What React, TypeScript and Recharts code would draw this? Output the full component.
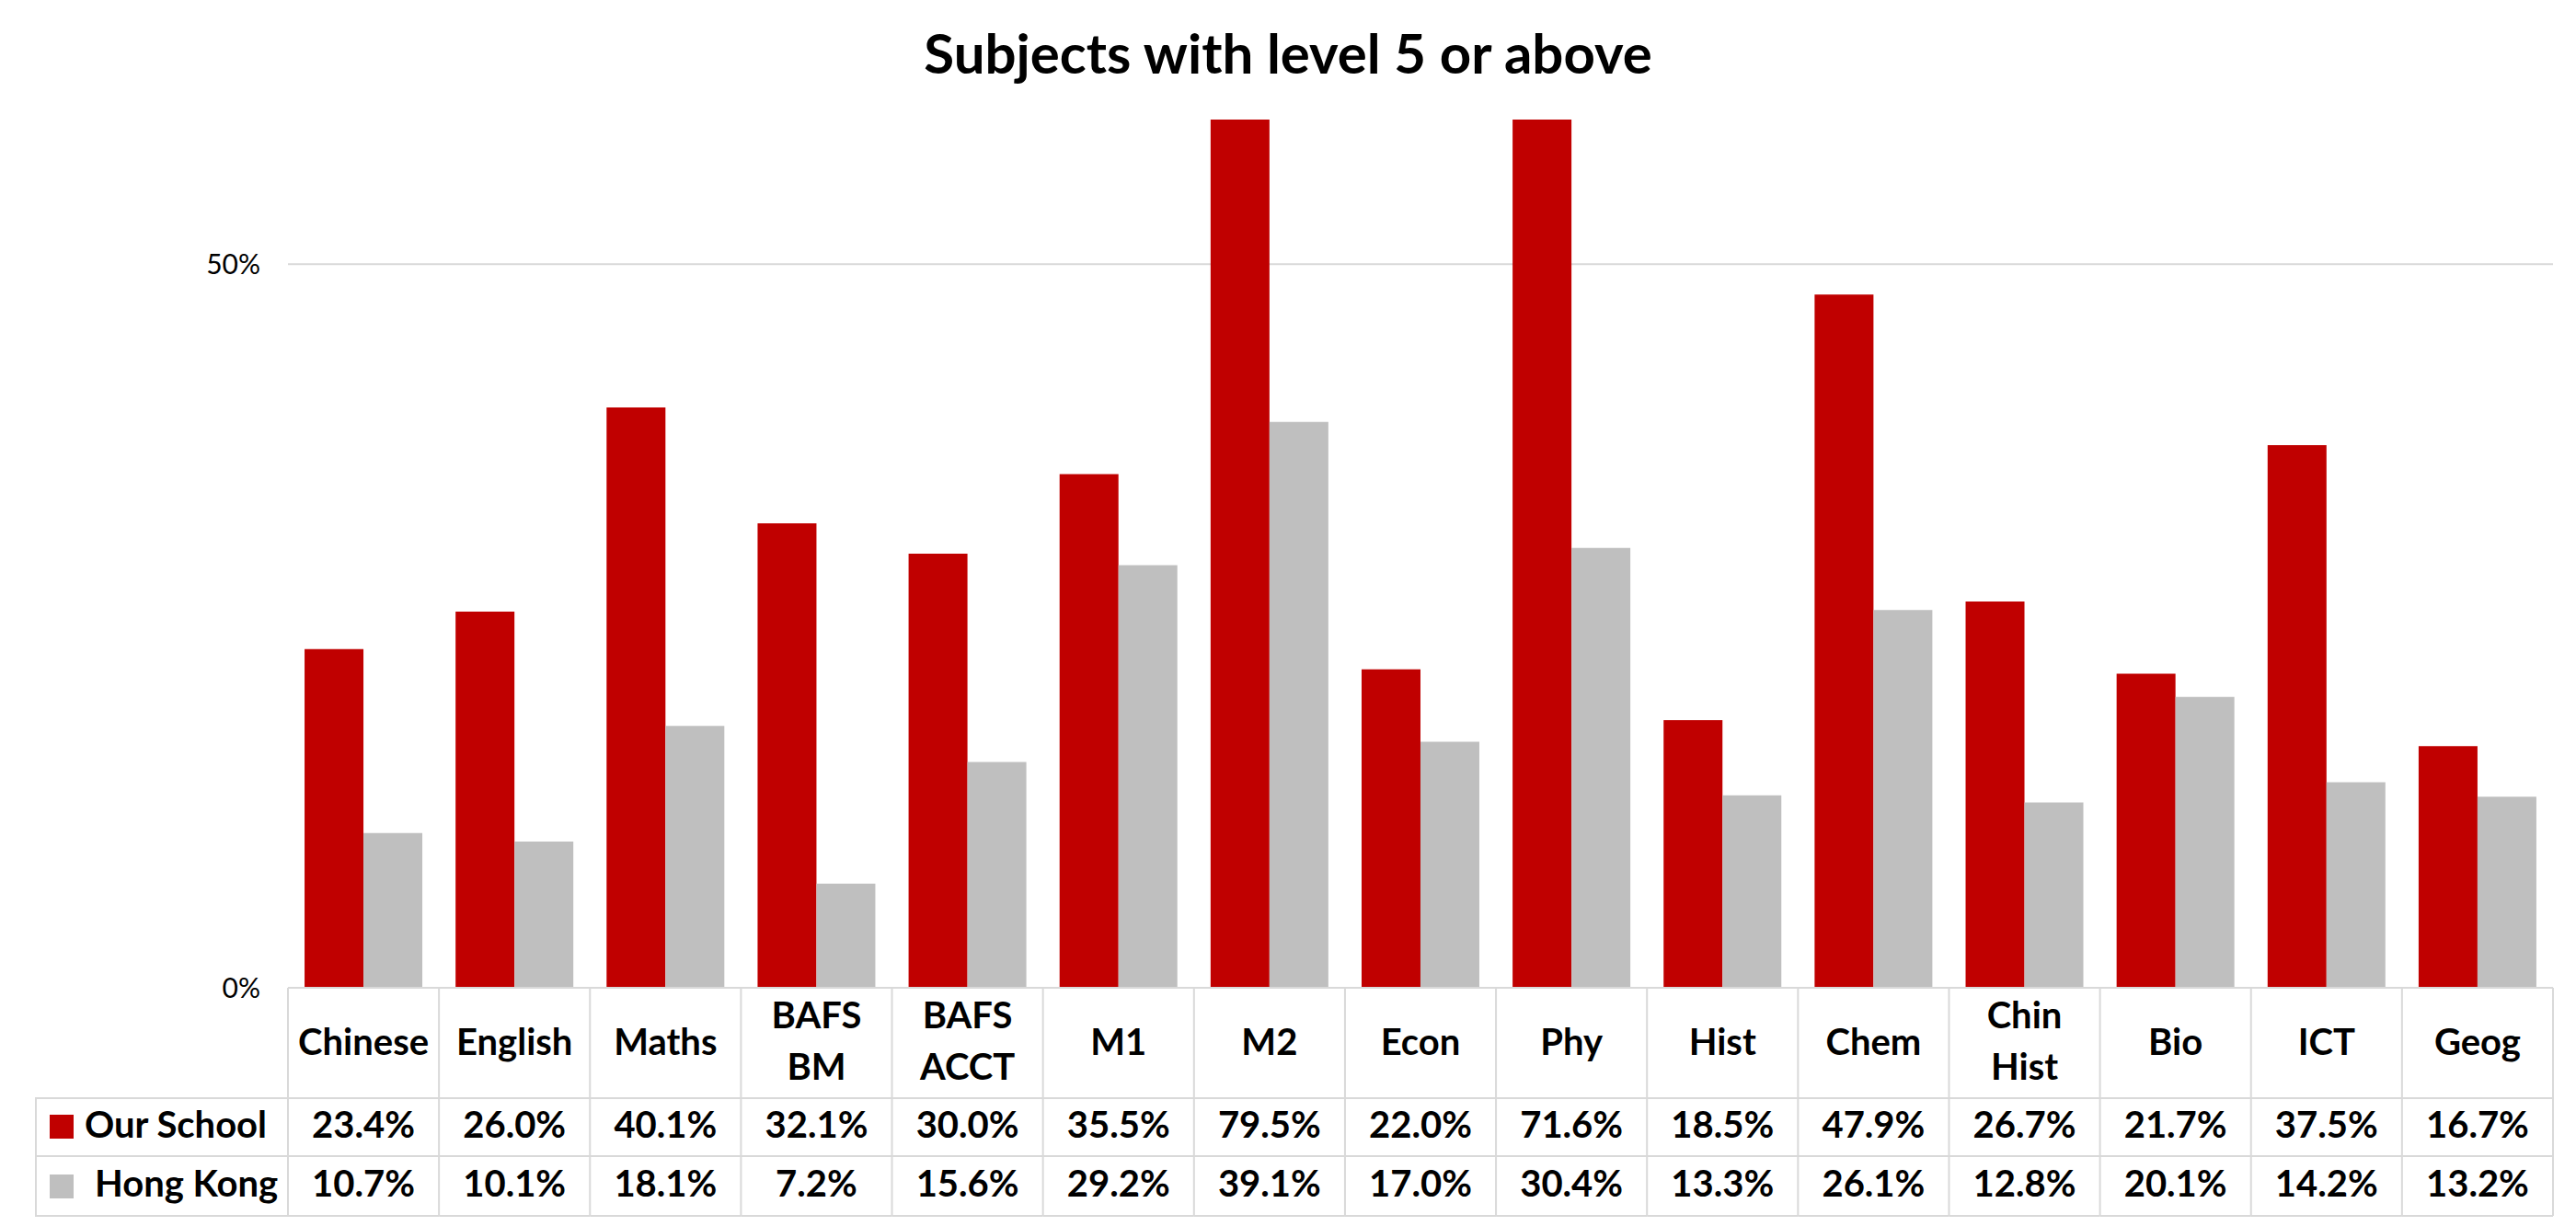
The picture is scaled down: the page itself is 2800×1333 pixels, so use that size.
import { Bar, BarChart, CartesianGrid, XAxis, YAxis } from "recharts";

const categories = ["Chinese", "English", "Maths", "BAFS BM", "BAFS ACCT", "M1", "M2", "Econ", "Phy", "Hist", "Chem", "Chin Hist", "Bio", "ICT", "Geog"];
const ourSchool = [23.4, 26.0, 40.1, 32.1, 30.0, 35.5, 79.5, 22.0, 71.6, 18.5, 47.9, 26.7, 21.7, 37.5, 16.7];
const hongKong = [10.7, 10.1, 18.1, 7.2, 15.6, 29.2, 39.1, 17.0, 30.4, 13.3, 26.1, 12.8, 20.1, 14.2, 13.2];
const yTicks = [0, 50];
const gridValues = [50];
const seriesNames = ["Our School", "Hong Kong"];

const W = 2800;
const H = 1333;
const margin = { top: 130, right: 25, left: 0, bottom: 9 };
const yAxisW = 313;
const xAxisH = 250;
const band = (W - margin.left - margin.right - yAxisW) / categories.length;
const legendW = 274;

const RED = "#C00000";
const GREY = "#BFBFBF";
const LINE = "#d9d9d9";
const font = "Lato, 'Noto Sans', sans-serif";
const cellFont = 40;

const data = categories.map((name, i) => ({ name, our: ourSchool[i], hk: hongKong[i] }));

function TableTick(props: any) {
  const { x, y, payload } = props;
  const i = payload.index;
  const left = x - band / 2;
  const right = x + band / 2;
  const lines = String(payload.value).split(" ");
  const textProps = { textAnchor: "middle" as const, fontFamily: font, fontWeight: 700, fontSize: cellFont, fill: "#000" };
  return (
    <g>
      <line x1={left} x2={left} y1={y} y2={y + 248} stroke={LINE} strokeWidth={2} />
      {i === categories.length - 1 && <line x1={right} x2={right} y1={y} y2={y + 248} stroke={LINE} strokeWidth={2} />}
      <line x1={left} x2={right} y1={y + 120} y2={y + 120} stroke={LINE} strokeWidth={2} />
      <line x1={left} x2={right} y1={y + 183} y2={y + 183} stroke={LINE} strokeWidth={2} />
      <line x1={left} x2={right} y1={y + 248} y2={y + 248} stroke={LINE} strokeWidth={2} />
      {lines.length === 1 ? (
        <text x={x} y={y + 73} {...textProps}>{lines[0]}</text>
      ) : (
        <>
          <text x={x} y={y + 44} {...textProps}>{lines[0]}</text>
          <text x={x} y={y + 100} {...textProps}>{lines[1]}</text>
        </>
      )}
      <text x={x} y={y + 163} {...textProps}>{ourSchool[i].toFixed(1)}%</text>
      <text x={x} y={y + 227} {...textProps}>{hongKong[i].toFixed(1)}%</text>
      {i === 0 && (
        <g>
          <rect x={left - legendW} y={y + 120} width={legendW} height={128} fill="none" stroke={LINE} strokeWidth={2} />
          <line x1={left - legendW} x2={left} y1={y + 183} y2={y + 183} stroke={LINE} strokeWidth={2} />
          <rect x={left - 259} y={y + 138} width={26} height={26} fill={RED} />
          <rect x={left - 259} y={y + 203} width={26} height={26} fill={GREY} />
          <text x={left - 221} y={y + 163} fontFamily={font} fontWeight={700} fontSize={cellFont} fill="#000">{seriesNames[0]}</text>
          <text x={left - 210} y={y + 227} fontFamily={font} fontWeight={700} fontSize={cellFont} fill="#000">{seriesNames[1]}</text>
        </g>
      )}
    </g>
  );
}

export default function App() {
  return (
    <div style={{ position: "absolute", left: 0, top: 0, width: W, height: H, background: "#fff" }}>
      <svg width={W} height={120} style={{ position: "absolute", left: 0, top: 0 }}>
        <text x={1400} y={80} textAnchor="middle" fontFamily={font} fontWeight={700} fontSize={60} fill="#000">
          Subjects with level 5 or above
        </text>
      </svg>
      <BarChart width={W} height={H} data={data} margin={margin} barCategoryGap="11%" barGap={0}>
        <CartesianGrid vertical={false} horizontalValues={gridValues} stroke={LINE} strokeWidth={2} />
        <XAxis
          dataKey="name"
          height={xAxisH}
          interval={0}
          tickSize={0}
          tickMargin={0}
          tickLine={false}
          axisLine={{ stroke: LINE, strokeWidth: 2 }}
          tick={<TableTick />}
        />
        <YAxis
          width={yAxisW}
          domain={[0, 60]}
          ticks={yTicks}
          allowDataOverflow
          axisLine={false}
          tickLine={false}
          tickSize={0}
          tickMargin={30}
          tickFormatter={(v: number) => `${v}%`}
          tick={{ fontFamily: font, fontSize: 30, fill: "#000" }}
        />
        <Bar dataKey="our" name={seriesNames[0]} fill={RED} isAnimationActive={false} />
        <Bar dataKey="hk" name={seriesNames[1]} fill={GREY} isAnimationActive={false} />
      </BarChart>
    </div>
  );
}
